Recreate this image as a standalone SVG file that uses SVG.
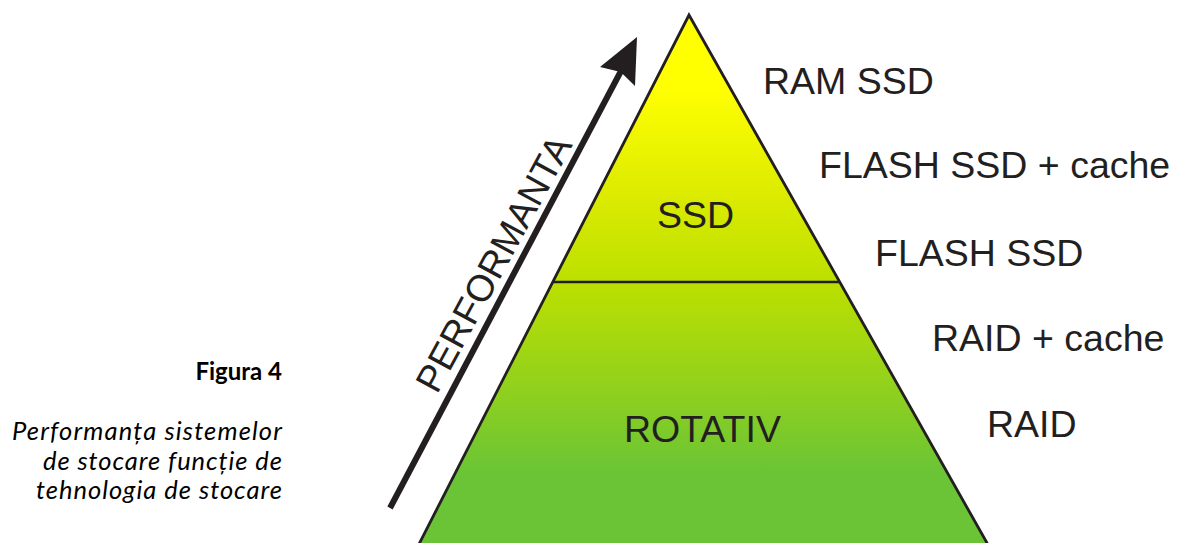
<svg xmlns="http://www.w3.org/2000/svg" width="1178" height="543" viewBox="0 0 1178 543">
  <style>
    .lbl { font-family: "Liberation Sans", Arial, sans-serif; font-size: 37.5px; fill: #231F20; }
    .cap { font-family: Lato, "Noto Sans", sans-serif; fill: #000000; font-size: 24px; }
    .it { font-style: italic; font-size: 25.5px; }
    .edge { stroke: #231F20; stroke-width: 2.6; fill: none; }
  </style>
  <defs>
    <linearGradient id="pyr" gradientUnits="userSpaceOnUse" x1="0" y1="15" x2="0" y2="543">
      <stop offset="0" stop-color="#FFFF00"/>
      <stop offset="0.14" stop-color="#FFFF00"/>
      <stop offset="0.34" stop-color="#DCEB00"/>
      <stop offset="0.505" stop-color="#BCE000"/>
      <stop offset="0.70" stop-color="#92D11C"/>
      <stop offset="0.87" stop-color="#6AC436"/>
      <stop offset="1" stop-color="#6AC436"/>
    </linearGradient>
  </defs>
  <rect width="1178" height="543" fill="#FFFFFF"/>

  <g id="pyramid">
    <path d="M689,15 L991,550 L416,550 Z" fill="url(#pyr)" stroke="#231F20" stroke-width="2.8" stroke-linejoin="miter"/>
    <line x1="553" y1="282" x2="840" y2="282" class="edge"/>
  </g>
  <g id="node-ssd">
    <text class="lbl" x="657" y="228">SSD</text>
  </g>
  <g id="node-rotativ">
    <text class="lbl" x="624" y="442">ROTATIV</text>
  </g>

  <g id="label-ram-ssd"><text class="lbl" x="763" y="94">RAM SSD</text></g>
  <g id="label-flash-cache"><text class="lbl" x="819" y="178">FLASH SSD + cache</text></g>
  <g id="label-flash-ssd"><text class="lbl" x="875" y="266">FLASH SSD</text></g>
  <g id="label-raid-cache"><text class="lbl" x="932" y="351">RAID + cache</text></g>
  <g id="label-raid"><text class="lbl" x="987" y="437">RAID</text></g>

  <g id="connectors">
    <line x1="390" y1="508" x2="621" y2="71" stroke="#231F20" stroke-width="6"/>
    <polygon points="637,37 600,67 620.7,72 635,86" fill="#231F20"/>
  </g>
  <g id="performanta">
    <text class="lbl" x="437" y="395" transform="rotate(-61.5 437 395)">PERFORMANTA</text>
  </g>

  <g id="caption">
    <text class="cap" x="282" y="380" text-anchor="end" font-weight="bold">Figura 4</text>
    <text class="cap it" x="282" y="440" text-anchor="end" textLength="270" lengthAdjust="spacing">Performanța sistemelor</text>
    <text class="cap it" x="282" y="470" text-anchor="end" textLength="239" lengthAdjust="spacing">de stocare funcție de</text>
    <text class="cap it" x="282" y="499" text-anchor="end" textLength="246" lengthAdjust="spacing">tehnologia de stocare</text>
  </g>
</svg>
